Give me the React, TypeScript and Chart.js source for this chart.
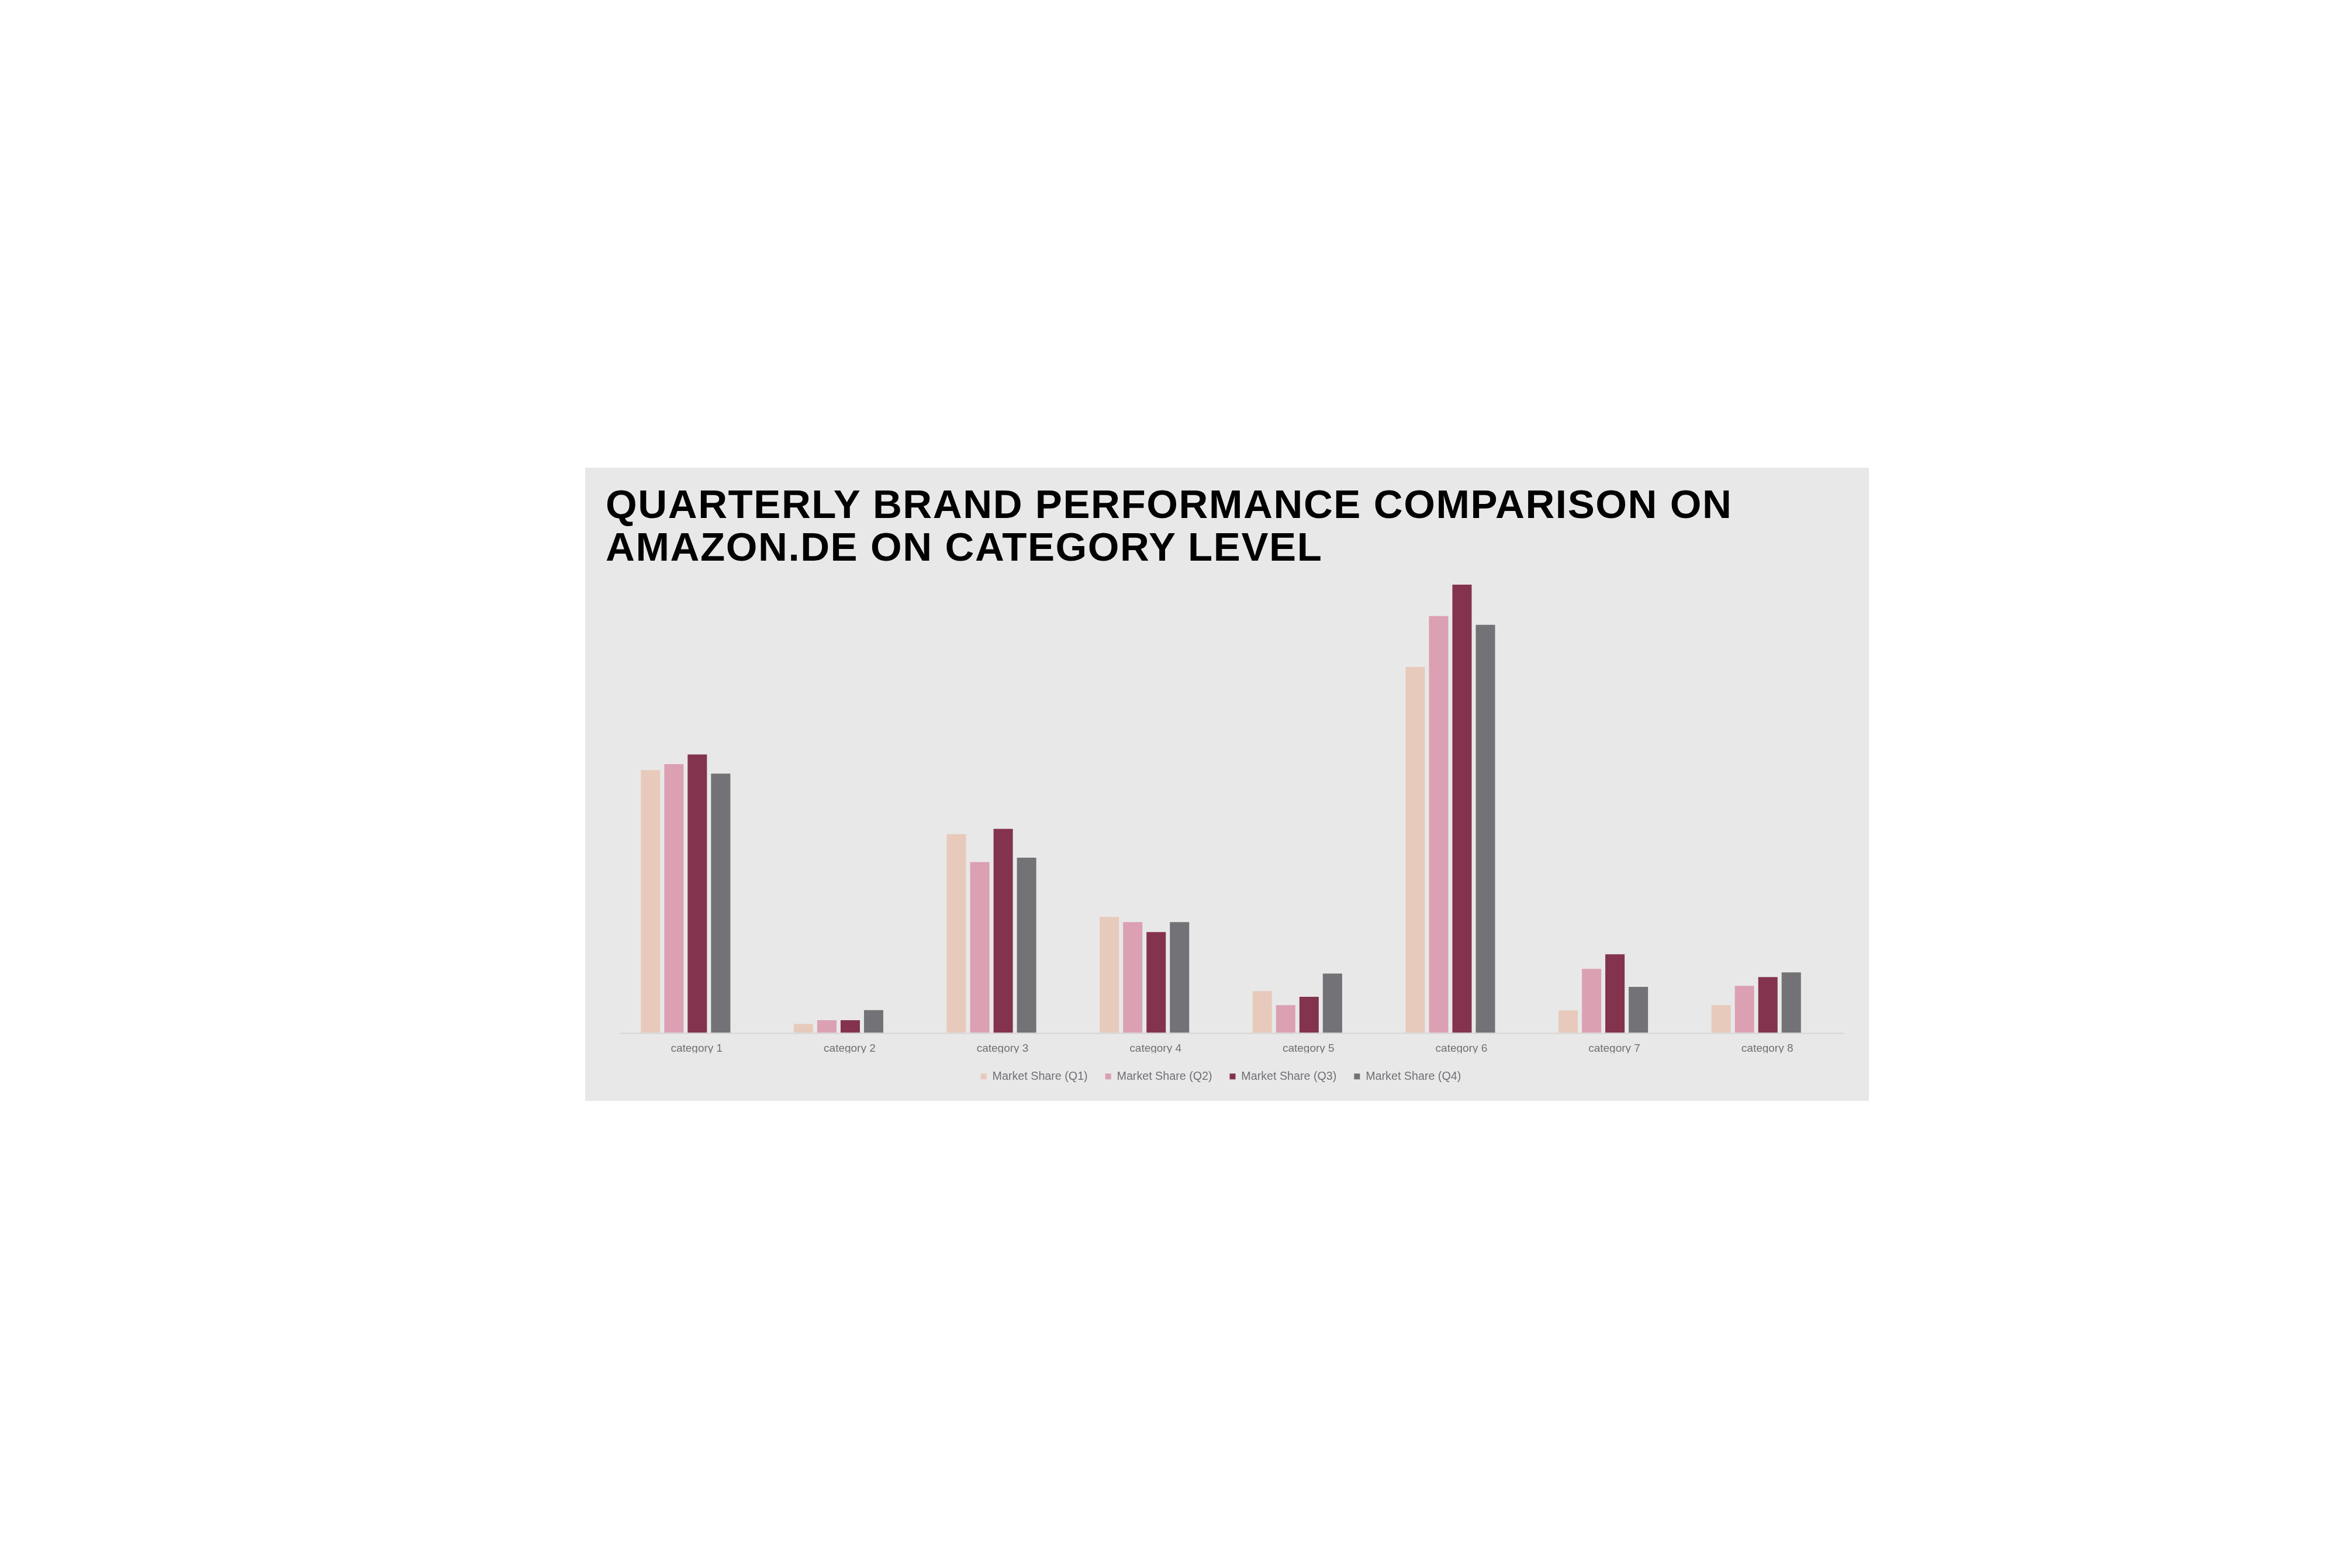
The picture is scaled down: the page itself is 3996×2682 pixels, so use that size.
import React, { useEffect, useRef } from "react";
import { Chart, registerables } from "chart.js";

Chart.register(...registerables);

// Categories and quarterly market share values (%)
const categories = [
  "category 1",
  "category 2",
  "category 3",
  "category 4",
  "category 5",
  "category 6",
  "category 7",
  "category 8",
];
const seriesLabels = [
  "Market Share (Q1)",
  "Market Share (Q2)",
  "Market Share (Q3)",
  "Market Share (Q4)",
];
const shareQ1 = [15.0, 0.5, 11.35, 6.62, 2.38, 20.9, 1.28, 1.58];
const shareQ2 = [15.35, 0.72, 9.75, 6.32, 1.58, 23.8, 3.65, 2.68];
const shareQ3 = [15.9, 0.72, 11.65, 5.75, 2.05, 25.6, 4.48, 3.18];
const shareQ4 = [14.8, 1.29, 10.0, 6.32, 3.38, 23.3, 2.62, 3.45];
const seriesColors = ["#e8cabc", "#dba1b3", "#83334e", "#737276"];
const yMax = 26;

const titleLines = [
  "QUARTERLY BRAND PERFORMANCE COMPARISON ON",
  "AMAZON.DE ON CATEGORY LEVEL",
];

const FONT = '"Liberation Sans", Arial, Helvetica, sans-serif';
const PANEL_W = 2196;
const PANEL_H = 1083;
// category labels and baseline sit slightly right of the bar groups
const AXIS_SHIFT = 19;
// the category axis box is allowed to tuck into the legend's top padding
const AXIS_OVERLAP = 20;

const baselinePlugin = {
  id: "baseline",
  beforeDatasetsDraw(chart: any) {
    const { ctx, chartArea } = chart;
    ctx.save();
    ctx.strokeStyle = "#d6d6d6";
    ctx.lineWidth = 2;
    ctx.beginPath();
    ctx.moveTo(chartArea.left + AXIS_SHIFT, chartArea.bottom + 1);
    ctx.lineTo(chartArea.right + AXIS_SHIFT, chartArea.bottom + 1);
    ctx.stroke();
    ctx.restore();
  },
};

function BrandChart() {
  const canvasRef = useRef<HTMLCanvasElement | null>(null);

  useEffect(() => {
    if (!canvasRef.current) return;
    const values = [shareQ1, shareQ2, shareQ3, shareQ4];
    const chart = new Chart(canvasRef.current, {
      type: "bar",
      data: {
        labels: categories,
        datasets: values.map((data, i) => ({
          label: seriesLabels[i],
          data,
          backgroundColor: seriesColors[i],
          borderWidth: 0,
          categoryPercentage: 0.612,
          barPercentage: 0.825,
        })),
      },
      plugins: [baselinePlugin],
      options: {
        animation: false,
        responsive: false,
        devicePixelRatio: 1,
        layout: { padding: { top: 188, left: 41, right: 62, bottom: 22 } },
        scales: {
          x: {
            grid: { display: false, drawTicks: false },
            border: { display: false },
            ticks: {
              color: "#707074",
              font: { family: FONT, size: 19 },
              padding: 16,
              labelOffset: AXIS_SHIFT,
              maxRotation: 0,
            },
            afterFit(scale: any) {
              scale.height -= AXIS_OVERLAP;
            },
          },
          y: {
            display: false,
            min: 0,
            max: yMax,
          },
        },
        plugins: {
          legend: {
            position: "bottom",
            labels: {
              boxWidth: 10,
              boxHeight: 10,
              padding: 30,
              color: "#707074",
              font: { family: FONT, size: 19.7 },
            },
          },
          tooltip: { enabled: false },
          title: { display: false },
        },
      },
    });
    return () => chart.destroy();
  }, []);

  return <canvas ref={canvasRef} width={PANEL_W} height={PANEL_H} style={{ display: "block" }} />;
}

export default function App() {
  return (
    <div
      style={{
        position: "absolute",
        left: 1001,
        top: 800,
        width: PANEL_W,
        height: PANEL_H,
        background: "#e8e8e8",
      }}
    >
      <BrandChart />
      <div
        style={{
          position: "absolute",
          left: 35,
          top: 26,
          fontFamily: FONT,
          fontWeight: 700,
          fontSize: 69,
          lineHeight: "73px",
          letterSpacing: "1.6px",
          color: "#000000",
          whiteSpace: "nowrap",
        }}
      >
        {titleLines[0]}
        <br />
        {titleLines[1]}
      </div>
    </div>
  );
}
